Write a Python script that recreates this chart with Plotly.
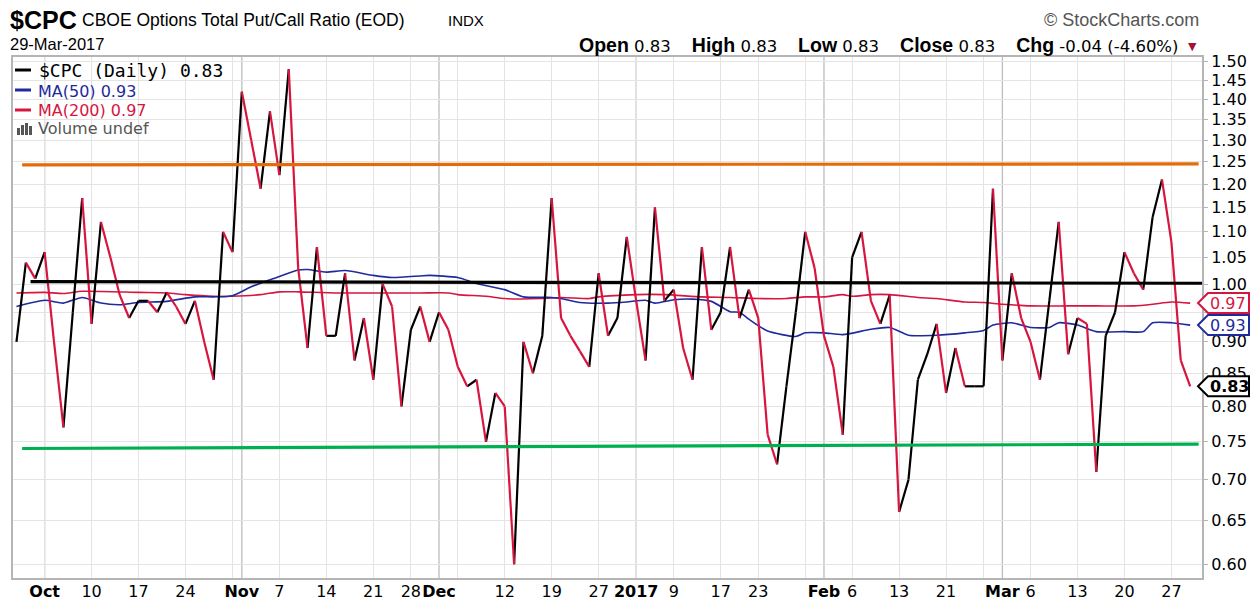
import math
import plotly.graph_objects as go

# ---------------- data ----------------
# x = trading-day index, 0 = 3-Oct-2016 ... 122 = 29-Mar-2017
first_idx = -3
cpc = [0.90, 1.04, 1.01, 1.06, 0.90, 0.77, 0.95, 1.17, 0.93, 1.12,
       1.05, 0.98, 0.94, 0.97, 0.97, 0.95, 0.985, 0.96, 0.93, 0.97,
       0.90, 0.84, 1.10, 1.06, 1.42, 1.30, 1.19, 1.37, 1.22, 1.48,
       1.03, 0.89, 1.07, 0.91, 0.91, 1.02, 0.87, 0.94, 0.84, 1.00,
       0.96, 0.80, 0.92, 0.96, 0.90, 0.95, 0.92, 0.86, 0.83, 0.84,
       0.75, 0.82, 0.80, 0.60, 0.90, 0.85, 0.91, 1.17, 0.94, 0.91,
       0.885, 0.86, 1.02, 0.91, 0.94, 1.09, 0.97, 0.87, 1.15, 0.97,
       0.99, 0.89, 0.84, 1.07, 0.92, 0.95, 1.07, 0.94, 0.99, 0.94,
       0.76, 0.72, 0.83, 0.95, 1.10, 1.03, 0.91, 0.86, 0.76, 1.05,
       1.10, 0.97, 0.93, 0.98, 0.66, 0.70, 0.84, 0.88, 0.93, 0.82,
       0.89, 0.83, 0.83, 0.83, 1.19, 0.87, 1.02, 0.94, 0.90, 0.84,
       0.97, 1.12, 0.88, 0.94, 0.93, 0.71, 0.91, 0.95, 1.06, 1.02,
       0.99, 1.13, 1.21, 1.08, 0.87, 0.83]

ma50_x = [-3, 0, 2, 4, 6, 8, 10, 13, 16, 18, 20, 22, 24, 25, 27, 28, 30, 32, 35,
          37, 40, 41, 44, 46, 49, 51, 54, 55, 57, 60, 62, 64, 65, 67, 69, 71, 73,
          74, 75, 77, 80, 81, 83, 85, 88, 90, 92, 95, 98, 100, 101, 103, 105, 107,
          108, 110, 112, 115, 117, 118, 120, 122]
ma50_y = [0.960, 0.971, 0.966, 0.976, 0.966, 0.963, 0.967, 0.969, 0.977, 0.977,
          0.979, 0.995, 1.008, 1.014, 1.026, 1.027, 1.022, 1.025, 1.016, 1.012,
          1.015, 1.016, 1.012, 1.001, 0.990, 0.977, 0.976, 0.974, 0.967, 0.966,
          0.968, 0.971, 0.966, 0.972, 0.973, 0.969, 0.951, 0.950, 0.938, 0.918,
          0.909, 0.915, 0.915, 0.912, 0.921, 0.924, 0.911, 0.911, 0.915, 0.919,
          0.928, 0.932, 0.924, 0.924, 0.932, 0.928, 0.917, 0.917, 0.917, 0.932,
          0.932, 0.928]

ma200_x = [-3, 0, 2, 4, 10, 13, 15, 18, 20, 23, 25, 27, 31, 40, 43, 44, 47, 49, 53,
           55, 58, 59, 63, 66, 70, 73, 76, 79, 81, 83, 85, 86, 88, 90, 93, 95, 98,
           100, 102, 105, 109, 112, 116, 118, 120, 122]
ma200_y = [0.984, 0.985, 0.983, 0.987, 0.985, 0.984, 0.981, 0.978, 0.978, 0.981,
           0.986, 0.986, 0.984, 0.984, 0.984, 0.981, 0.978, 0.974, 0.974, 0.976,
           0.974, 0.977, 0.981, 0.981, 0.977, 0.976, 0.974, 0.974, 0.977, 0.977,
           0.981, 0.978, 0.981, 0.981, 0.976, 0.974, 0.968, 0.967, 0.964, 0.961,
           0.961, 0.961, 0.961, 0.964, 0.968, 0.966]

# user-drawn level lines: (x start, x end, y start, y end, colour)
level_x0 = [-2.4, -1.5, -2.4]
level_x1 = [122.9, 123.3, 122.9]
level_y0 = [1.243, 1.0045, 0.741]
level_y1 = [1.245, 1.0016, 0.747]
level_col = ["#e36c0a", "#000000", "#00b050"]

# header quote values
quote_labels = ["Open", "High", "Low", "Close", "Chg"]
quote_values = ["0.83", "0.83", "0.83", "0.83", "-0.04 (-4.60%)"]

# axis ticks
y_ticks = [0.60, 0.65, 0.70, 0.75, 0.80, 0.85, 0.90, 0.95, 1.00, 1.05, 1.10,
           1.15, 1.20, 1.25, 1.30, 1.35, 1.40, 1.45, 1.50]
x_label_pos = [0, 5, 10, 15, 21, 25, 30, 35, 39, 42, 49, 54, 59, 63, 67, 72, 76,
               83, 86, 91, 96, 102, 105, 110, 115, 120]
x_label_txt = ["<b>Oct</b>", "10", "17", "24", "<b>Nov</b>", "7", "14", "21", "28",
               "<b>Dec</b>", "12", "19", "27", "<b>2017</b>", "9", "17", "23",
               "<b>Feb</b>", "6", "13", "21", "<b>Mar</b>", "6", "13", "20", "27"]
week_grid = [0, 5, 10, 15, 20, 25, 30, 35, 39, 44, 49, 54, 59, 63, 67, 72, 76, 81,
             86, 91, 96, 100, 105, 110, 115, 120]
month_grid = [0, 21, 42, 63, 83, 102]

# ---------------- figure ----------------
W, H = 1253, 600
ML, MR, MT, MB = 13, 51, 57, 22
PW, PH = W - ML - MR, H - MT - MB

def PX(x):
    return (x - ML) / PW

def PY(y):
    return (H - MB - y) / PH

RED = "#d6163f"
BLUE = "#1f2a9c"
FONT = "Liberation Sans, Arial, sans-serif"
VFONT = "DejaVu Sans, Verdana, sans-serif"

xs = [first_idx + i for i in range(len(cpc))]

fig = go.Figure()

fig.add_trace(go.Scatter(x=ma200_x, y=ma200_y, mode="lines",
                         line=dict(color=RED, width=1.6, shape="spline", smoothing=0.6),
                         hoverinfo="skip"))
fig.add_trace(go.Scatter(x=ma50_x, y=ma50_y, mode="lines",
                         line=dict(color=BLUE, width=1.6, shape="spline", smoothing=0.6),
                         hoverinfo="skip"))

# price line coloured by direction
up_x, up_y, dn_x, dn_y = [], [], [], []
for i in range(1, len(cpc)):
    if cpc[i] >= cpc[i - 1]:
        up_x += [xs[i - 1], xs[i], None]
        up_y += [cpc[i - 1], cpc[i], None]
    else:
        dn_x += [xs[i - 1], xs[i], None]
        dn_y += [cpc[i - 1], cpc[i], None]
fig.add_trace(go.Scatter(x=up_x, y=up_y, mode="lines",
                         line=dict(color="#000000", width=2.2), hoverinfo="skip"))
fig.add_trace(go.Scatter(x=dn_x, y=dn_y, mode="lines",
                         line=dict(color=RED, width=2.2), hoverinfo="skip"))

for x0, x1, y0, y1, c in zip(level_x0, level_x1, level_y0, level_y1, level_col):
    fig.add_trace(go.Scatter(x=[x0, x1], y=[y0, y1], mode="lines",
                             line=dict(color=c, width=3.2), hoverinfo="skip"))

shapes = []
for m in month_grid:
    shapes.append(dict(type="line", xref="x", yref="paper", x0=m, x1=m, y0=0, y1=1,
                       line=dict(color="#bdbdbd", width=1.3), layer="between"))

# value tags on the right
tags = [(ma200_y[-1], RED, "0.97", False),
        (ma50_y[-1], BLUE, "0.93", False),
        (cpc[-1], "#000000", "0.83", True)]
annotations = []
for val, col, txt, bold in tags:
    shapes.append(dict(type="path", xref="paper", yref="y", xsizemode="pixel",
                       ysizemode="pixel", xanchor=1, yanchor=val,
                       path="M -4,0 L 6,-10 L 47,-10 L 47,10 L 6,10 Z",
                       fillcolor="white", line=dict(color=col, width=2), layer="above"))
    annotations.append(dict(xref="paper", yref="y", x=1, y=math.log10(val),
                            xanchor="left", yanchor="middle", xshift=6, showarrow=False,
                            text=("<b>%s</b>" % txt) if bold else txt,
                            font=dict(family=VFONT, size=16, color=col)))

# header texts
def txt(x, y, s, size, color="#000", anchor="left", family=FONT):
    annotations.append(dict(xref="paper", yref="paper", x=PX(x), y=PY(y), text=s,
                            xanchor=anchor, yanchor="middle", showarrow=False,
                            font=dict(family=family, size=size, color=color)))

txt(8, 20, "<b>$CPC</b>", 25)
txt(80, 20, "CBOE Options Total Put/Call Ratio (EOD)", 17.5)
txt(446, 20, "INDX", 15)
txt(8, 44, "29-Mar-2017", 16.5)
txt(1201, 20, "© StockCharts.com", 18, color="#555555", anchor="right")
nb = "\u00a0"
parts = []
for lab, v in zip(quote_labels, quote_values):
    parts.append('<span style="font-family:Liberation Sans, Arial;font-size:19.5px">'
                 "<b>%s</b></span>%s%s" % (lab, nb, v))
txt(1181, 45, (nb * 4).join(parts), 16.5, anchor="right", family=VFONT)
txt(1186, 46, "▼", 11, color="#a3122e", family="DejaVu Sans")

# in-chart legend
txt(37, 70, "$CPC (Daily) 0.83", 18, family="DejaVu Sans Mono")
txt(36, 91, "MA(50) 0.93", 16, color=BLUE, family=VFONT)
txt(36, 110, "MA(200) 0.97", 16, color=RED, family=VFONT)
txt(36, 129, "Volume undef", 16, color="#555555", family=VFONT)
for yy, col in [(70, "#000000"), (90, BLUE), (110, RED)]:
    shapes.append(dict(type="line", xref="paper", yref="paper", x0=PX(15), x1=PX(31),
                       y0=PY(yy), y1=PY(yy), line=dict(color=col, width=3), layer="above"))
for bx, bh in [(17, 7), (21, 10), (25, 12), (29, 9)]:
    shapes.append(dict(type="rect", xref="paper", yref="paper", x0=PX(bx), x1=PX(bx + 3),
                       y0=PY(135), y1=PY(135 - bh), fillcolor="#555555",
                       line=dict(width=0), layer="above"))

fig.update_layout(
    width=W, height=H,
    margin=dict(l=ML, r=MR, t=MT, b=MB, autoexpand=False),
    paper_bgcolor="white", plot_bgcolor="white",
    showlegend=False,
    shapes=shapes, annotations=annotations,
    font=dict(family=FONT, size=16, color="#000"),
)
fig.update_xaxes(
    range=[-3.37, 123.26], tickmode="array", tickvals=x_label_pos, ticktext=x_label_txt,
    showgrid=False, zeroline=False, ticks="", tickfont=dict(size=16, family=VFONT),
    tickangle=0, automargin=False, ticklabelstandoff=-2,
    showline=True, mirror=True, linecolor="#b5b5b5", linewidth=2,
    minor=dict(tickmode="array", tickvals=week_grid, showgrid=True,
               gridcolor="#e4e4e4", gridwidth=1.3, ticks=""),
)
fig.update_yaxes(
    type="log", range=[math.log10(0.58516), math.log10(1.5130)], side="right",
    tickmode="array", tickvals=y_ticks, ticktext=["%.2f" % v for v in y_ticks],
    showgrid=True, gridcolor="#e4e4e4", gridwidth=1.3, zeroline=False,
    ticks="outside", ticklen=4, tickcolor="#b5b5b5", automargin=False,
    tickfont=dict(size=16, family=VFONT),
    showline=True, mirror=True, linecolor="#b5b5b5", linewidth=2,
)

fig.write_html("out.html", config={"displayModeBar": False},
               post_script="document.body.style.margin='0px';"
                           "document.body.style.overflow='hidden';")
